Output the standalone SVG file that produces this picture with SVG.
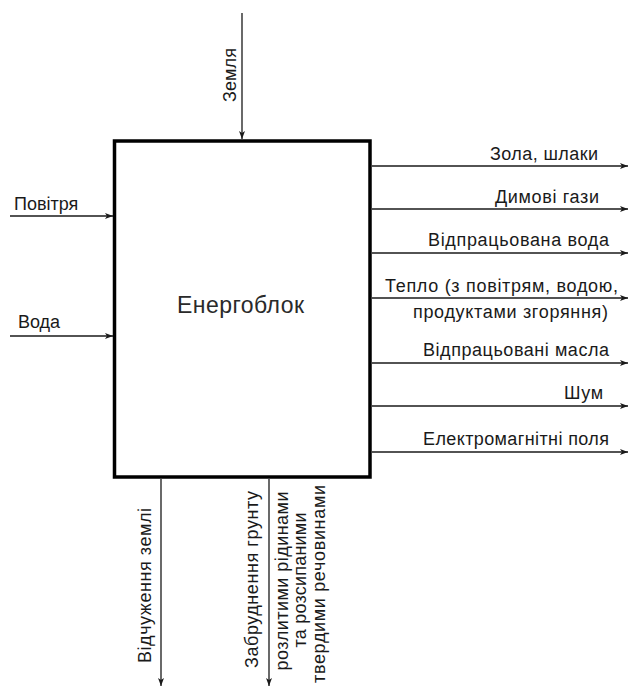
<svg xmlns="http://www.w3.org/2000/svg" width="631" height="687" viewBox="0 0 631 687">
<defs>
<style>
.lbl{font-family:"Liberation Sans",Arial,sans-serif;font-size:18px;fill:#1a1a1a}
.ttl{font-family:"Liberation Sans",Arial,sans-serif;font-size:23px;fill:#2a2a2a}
.ln{stroke:#1a1a1a;stroke-width:1.3;fill:none;marker-end:url(#ah)}
.box{fill:#fff;stroke:#000;stroke-width:3.5}
</style>
<marker id="ah" viewBox="0 0 8 6" refX="8" refY="3" markerWidth="8" markerHeight="6" markerUnits="userSpaceOnUse" orient="auto">
<path d="M0,0 L8,3 L0,6 L2,3 Z" fill="#1a1a1a"/>
</marker>
</defs>
<rect width="631" height="687" fill="#fff"/>
<g id="connectors">
<line class="ln" x1="242" y1="13" x2="242" y2="139"/>
<line class="ln" x1="10" y1="216" x2="113" y2="216"/>
<line class="ln" x1="10" y1="336" x2="113" y2="336"/>
<line class="ln" x1="372" y1="166" x2="628" y2="166"/>
<line class="ln" x1="372" y1="209" x2="628" y2="209"/>
<line class="ln" x1="372" y1="253" x2="628" y2="253"/>
<line class="ln" x1="372" y1="298" x2="628" y2="298"/>
<line class="ln" x1="372" y1="363" x2="628" y2="363"/>
<line class="ln" x1="372" y1="406" x2="628" y2="406"/>
<line class="ln" x1="372" y1="452" x2="628" y2="452"/>
<line class="ln" x1="161" y1="479" x2="161" y2="686"/>
<line class="ln" x1="269" y1="479" x2="269" y2="686"/>
</g>
<g id="energoblok">
<rect class="box" x="114.5" y="141" width="255.5" height="336"/>
<text class="ttl" x="177" y="313" textLength="127">Енергоблок</text>
</g>
<g id="inputs">
<text class="lbl" transform="translate(236,102) rotate(-90)" textLength="54">Земля</text>
<text class="lbl" x="14" y="210">Повітря</text>
<text class="lbl" x="18" y="328">Вода</text>
</g>
<g id="outputs">
<text class="lbl" x="598" y="160" text-anchor="end" textLength="108">Зола, шлаки</text>
<text class="lbl" x="599" y="203" text-anchor="end" textLength="104">Димові гази</text>
<text class="lbl" x="609" y="246" text-anchor="end" textLength="181">Відпрацьована вода</text>
<text class="lbl" x="618" y="292" text-anchor="end" textLength="233">Тепло (з повітрям, водою,</text>
<text class="lbl" x="608" y="318" text-anchor="end" textLength="195">продуктами згоряння)</text>
<text class="lbl" x="609" y="356" text-anchor="end" textLength="186">Відпрацьовані масла</text>
<text class="lbl" x="603" y="399" text-anchor="end" textLength="39">Шум</text>
<text class="lbl" x="609" y="445" text-anchor="end" textLength="186">Електромагнітні поля</text>
</g>
<g id="bottom">
<text class="lbl" transform="translate(151,663) rotate(-90)" textLength="155">Відчуження землі</text>
<text class="lbl" transform="translate(258,668) rotate(-90)" textLength="177">Забруднення грунту</text>
<text class="lbl" transform="translate(288,581) rotate(-90)" text-anchor="middle" textLength="179">розлитими рідинами</text>
<text class="lbl" transform="translate(306,580) rotate(-90)" text-anchor="middle" textLength="135">та розсипаними</text>
<text class="lbl" transform="translate(325,584) rotate(-90)" text-anchor="middle" textLength="198">твердими речовинами</text>
</g>
</svg>
